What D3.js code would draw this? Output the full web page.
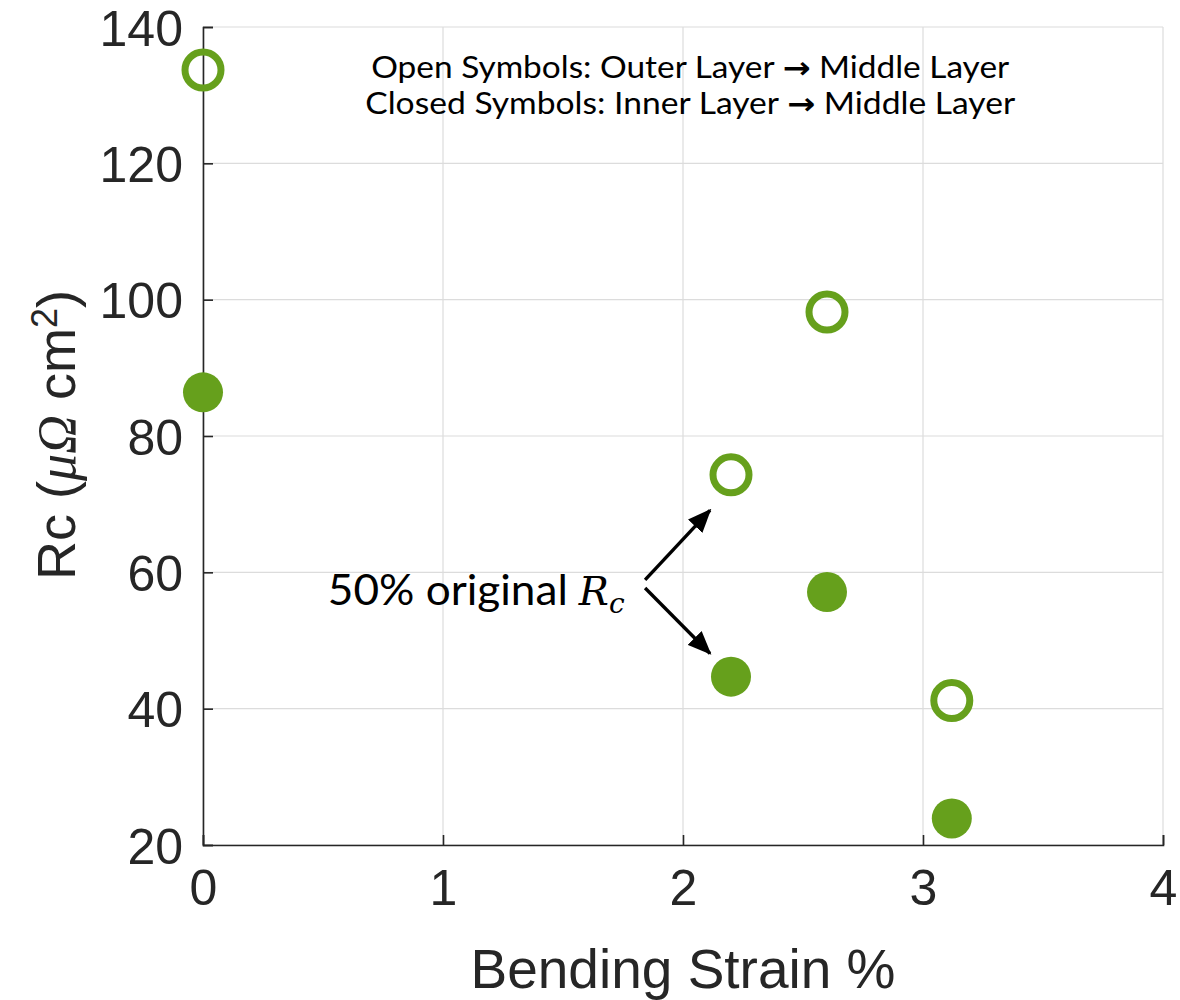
<!DOCTYPE html>
<html>
<head>
<meta charset="utf-8">
<script src="https://cdn.jsdelivr.net/npm/d3@7"></script>
<style>
  html, body { margin: 0; padding: 0; background: #fff; }
  svg { display: block; }
</style>
</head>
<body>
<script>
// ---- data ----
const strainValues = [0, 2.2, 2.6, 3.12];
const openRc   = [133.7, 74.3, 98.2, 41.2];   // Outer Layer -> Middle Layer
const closedRc = [86.4, 44.7, 57.1, 23.9];    // Inner Layer -> Middle Layer
const xTicks = [0, 1, 2, 3, 4];
const yTicks = [20, 40, 60, 80, 100, 120, 140];
const legendParts = [
  ["Open Symbols: Outer Layer ", "\u2192", " Middle Layer"],
  ["Closed Symbols: Inner Layer ", "\u2192", " Middle Layer"]
];
const annotationLabel = "50% original";

(function () {
// ---- layout ----
const W = 1180, H = 1000;
const mLeft = 203, mRight = 1163, mTop = 27, mBottom = 845;
const green = "#66a01c";
const axisColor = "#262626";

const svg = d3.select("body").append("svg").attr("width", W).attr("height", H);

const x = d3.scaleLinear().domain([0, 4]).range([mLeft, mRight]);
const y = d3.scaleLinear().domain([20, 140]).range([mBottom, mTop]);

// grid
const grid = svg.append("g");
grid.selectAll(".gx").data(xTicks).join("line")
  .attr("x1", d => x(d)).attr("x2", d => x(d))
  .attr("y1", mTop).attr("y2", mBottom)
  .attr("stroke", "#dcdcdc").attr("stroke-width", 1.2);
grid.selectAll(".gy").data(yTicks).join("line")
  .attr("x1", mLeft).attr("x2", mRight)
  .attr("y1", d => y(d)).attr("y2", d => y(d))
  .attr("stroke", "#dcdcdc").attr("stroke-width", 1.2);

// axes
const xAxis = d3.axisBottom(x).tickValues(xTicks).tickSize(-10).tickPadding(24).tickFormat(d3.format("d"));
const yAxis = d3.axisLeft(y).tickValues(yTicks).tickSize(-10).tickPadding(20).tickFormat(d3.format("d"));

const gx = svg.append("g").attr("transform", `translate(0,${mBottom})`).call(xAxis);
const gy = svg.append("g").attr("transform", `translate(${mLeft},0)`).call(yAxis);
[gx, gy].forEach(g => {
  g.select(".domain").attr("stroke", axisColor).attr("stroke-width", 1.6);
  g.selectAll(".tick line").attr("stroke", axisColor).attr("stroke-width", 1.6);
  g.selectAll(".tick text").attr("fill", axisColor)
    .style("font-family", "'Liberation Sans', Arial, sans-serif").style("font-size", "50px");
});
gx.selectAll(".tick text").attr("dy", "0.71em");
gy.selectAll(".tick text").attr("dy", "0.36em");

// axis labels
svg.append("text")
  .attr("x", (mLeft + mRight) / 2).attr("y", 988)
  .attr("text-anchor", "middle")
  .attr("fill", axisColor)
  .style("font-family", "'Liberation Sans', Arial, sans-serif")
  .style("font-size", "55px")
  .text("Bending Strain %");

const yl = svg.append("text")
  .attr("transform", "translate(75,435) rotate(-90)")
  .attr("text-anchor", "middle")
  .attr("fill", axisColor)
  .style("font-family", "'Liberation Sans', Arial, sans-serif")
  .style("font-size", "54px");
yl.append("tspan").text("Rc (");
yl.append("tspan").style("font-family", "'Liberation Serif', 'DejaVu Serif', serif").style("font-style", "italic").text("\u03bc\u03a9");
yl.append("tspan").text(" cm");
yl.append("tspan").attr("dy", "-0.5em").style("font-size", "36px").text("2");
yl.append("tspan").attr("dy", "0.34em").text(")");

// data points
const openData = strainValues.map((s, i) => ({ x: s, y: openRc[i] }));
const closedData = strainValues.map((s, i) => ({ x: s, y: closedRc[i] }));

svg.append("g").selectAll("circle").data(closedData).join("circle")
  .attr("cx", d => x(d.x)).attr("cy", d => y(d.y))
  .attr("r", 20).attr("fill", green);

svg.append("g").selectAll("circle").data(openData).join("circle")
  .attr("cx", d => x(d.x)).attr("cy", d => y(d.y))
  .attr("r", 18).attr("fill", "none").attr("stroke", green).attr("stroke-width", 7);

// legend text
const legendFont = "Lato, 'Open Sans', sans-serif";
const legendBase = [132.5, 127.2];
const legendLen = [638, 650];
legendParts.forEach((parts, i) => {
  const t = svg.append("text")
    .attr("x", x(2.03)).attr("y", y(legendBase[i]))
    .attr("text-anchor", "middle")
    .attr("fill", "#000")
    .attr("textLength", legendLen[i]).attr("lengthAdjust", "spacingAndGlyphs")
    .style("font-family", legendFont).style("font-size", "30px");
  t.append("tspan").text(parts[0]);
  t.append("tspan").style("font-weight", "900").style("font-family", "'DejaVu Sans', sans-serif").text(parts[1]);
  t.append("tspan").text(parts[2]);
});

// annotation
svg.append("defs").append("marker")
  .attr("id", "ah").attr("viewBox", "0 0 12 10")
  .attr("refX", 11).attr("refY", 5)
  .attr("markerWidth", 7).attr("markerHeight", 5.8)
  .attr("markerUnits", "strokeWidth")
  .attr("preserveAspectRatio", "none")
  .attr("orient", "auto")
  .append("path").attr("d", "M0,0 L12,5 L0,10 Z").attr("fill", "#000");

const ann = svg.append("text")
  .attr("x", x(0.52)).attr("y", y(55.2))
  .attr("fill", "#000")
  .style("font-family", legendFont).style("font-size", "43px");
ann.append("tspan").attr("textLength", 240).attr("lengthAdjust", "spacingAndGlyphs").text(annotationLabel);
ann.append("tspan").text(" ");
ann.append("tspan").style("font-family", "'DejaVu Serif', 'Liberation Serif', serif").style("font-style", "italic").style("font-size", "40px").text("R");
ann.append("tspan").attr("dy", 8).style("font-family", "'DejaVu Serif', 'Liberation Serif', serif").style("font-style", "italic").style("font-size", "28px").text("c");

const arrows = [
  { x1: 1.842, y1: 58.9, x2: 2.1125, y2: 69.1 },
  { x1: 1.842, y1: 57.7, x2: 2.1125, y2: 48.1 }
];
svg.append("g").selectAll("line").data(arrows).join("line")
  .attr("x1", d => x(d.x1)).attr("y1", d => y(d.y1))
  .attr("x2", d => x(d.x2)).attr("y2", d => y(d.y2))
  .attr("stroke", "#000").attr("stroke-width", 3.4)
  .attr("marker-end", "url(#ah)");
})();
</script>
</body>
</html>
